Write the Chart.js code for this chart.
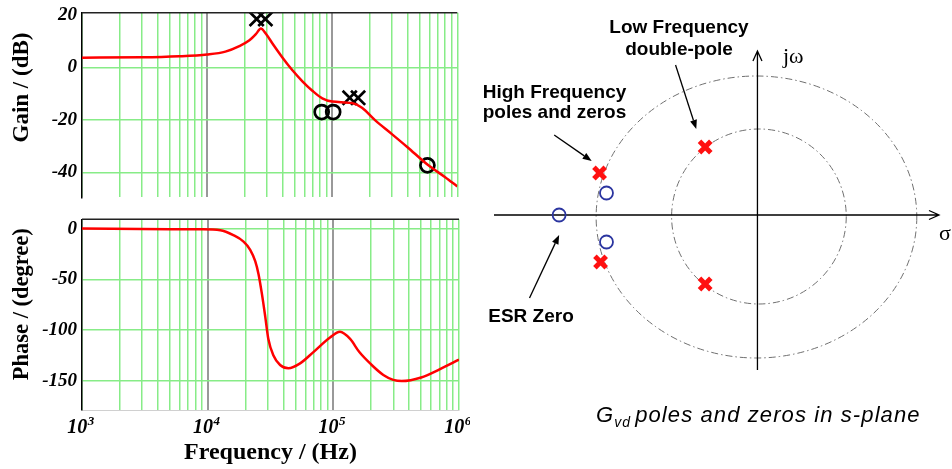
<!DOCTYPE html>
<html>
<head>
<meta charset="utf-8">
<script src="https://cdn.jsdelivr.net/npm/chart.js@4.4.1/dist/chart.umd.min.js"></script>
<style>
  body { margin: 0; background: #fff; }
  #wrap { position: relative; width: 952px; height: 469px; }
  canvas { position: absolute; }
</style>
</head>
<body>
<div id="wrap">
  <canvas id="gain" width="470" height="210" style="left:0;top:0"></canvas>
  <canvas id="phase" width="470" height="259" style="left:0;top:210px"></canvas>
  <canvas id="splane" width="482" height="469" style="left:470px;top:0"></canvas>
</div>
<script>
// ---- Bode data ----
const freqTicks = [1e3, 1e4, 1e5, 1e6];
const freqTickExp = ['3', '4', '5', '6'];
const gainTicks = [-40, -20, 0, 20];
const phaseTicks = [-150, -100, -50, 0];

const gainFreq = [1000, 3000, 6000, 10000, 14000, 18100, 21800, 24600, 26900, 29600, 33300, 40100, 48100,
  57800, 69400, 83300, 100000, 144000, 173000, 221000, 300000, 400000, 577000, 800000, 1000000];
const gainDb = [3.7, 3.8, 4.2, 4.9, 6.0, 8.1, 10.3, 12.7, 14.8, 12.7, 9.1, 3.7, -1.1,
  -5.3, -8.9, -11.8, -13.0, -13.6, -15.4, -20.2, -25.4, -30.4, -37.0, -41.8, -45.3];

const phaseFreq = [1000, 5000, 8700, 12600, 16000, 19300, 21800, 23900, 25400, 27000, 28700, 30400, 33300,
  37700, 43900, 54400, 69400, 94100, 113000, 136000, 161000, 200000, 250000, 300000, 350000, 500000, 700000, 1000000];
const phaseDeg = [0, -0.5, -0.7, -1.6, -6.4, -12.8, -20.8, -32, -44.8, -64, -86.3, -108.7, -124.6,
  -134.2, -137.4, -132.6, -121.5, -107.1, -101.6, -108.6, -121.5, -133.7, -144, -148.8, -150, -146.5, -138.5, -129];

const markPoleFreq = [24900, 29200, 138000, 161000];
const markPoleDb = [18.4, 18.4, -11.6, -11.6];
const markZeroFreq = [82400, 101800, 577000];
const markZeroDb = [-17.0, -17.0, -37.3];

// ---- s-plane data (normalised units) ----
const poleRe = [-1.60, -1.59, -0.53, -0.53];
const poleIm = [0.42, -0.47, 0.68, -0.69];
const zeroRe = [-1.53, -1.53, -2.01];
const zeroIm = [0.22, -0.27, 0];
const ringRe = [-0.01, 0.015];
const ringIm = [-0.02, -0.015];
const ringRx = [1.625, 0.885];
const ringRy = [1.41, 0.875];

const SERIF = "'Liberation Serif', 'Times New Roman', serif";
const SANS = "'Liberation Sans', Arial, sans-serif";
const GREEN = 'rgb(135,236,135)';
const GREY = '#999999';

const xy = (xs, ys) => xs.map((x, i) => ({ x, y: ys[i] }));

const gridFreqs = [];
for (let i = 0; i < freqTicks.length - 1; i++) {
  for (let m = 1; m < 10; m++) gridFreqs.push(freqTicks[i] * m);
}
gridFreqs.push(freqTicks[freqTicks.length - 1]);

const isDecade = v => v === 1e4 || v === 1e5;

function freqAxis(h, extra) {
  return Object.assign({
    type: 'logarithmic', min: 1e3, max: 1e6,
    afterBuildTicks: s => { s.ticks = gridFreqs.map(v => ({ value: v })); },
    afterFit: s => { s.height = h; },
    ticks: { display: false },
    grid: {
      drawTicks: false,
      color: c => (c.tick && isDecade(c.tick.value)) ? GREY : GREEN,
      lineWidth: c => (c.tick && isDecade(c.tick.value)) ? 2 : 1.5
    },
    border: { display: false }
  }, extra || {});
}

function valueAxis(min, max, ticks, lh) {
  return {
    min, max,
    afterBuildTicks: s => { s.ticks = ticks.map(v => ({ value: v })); },
    afterFit: s => { s.width = 82; },
    ticks: { padding: 5, color: '#000', font: { family: SERIF, size: 19, weight: 'bold', style: 'italic', lineHeight: lh } },
    grid: { drawTicks: false, color: c => (c.tick && c.tick.value > max - 1) ? 'rgba(0,0,0,0)' : GREEN, lineWidth: 1.5 },
    border: { display: true, color: '#000', width: 1.5 }
  };
}

function frame(title, cx, cy, size) {
  return {
    id: 'frame',
    afterDraw(chart) {
      const { ctx, chartArea: a } = chart;
      ctx.save();
      ctx.strokeStyle = '#222';
      ctx.lineWidth = 1.5;
      ctx.beginPath();
      ctx.moveTo(a.left, a.top);
      ctx.lineTo(a.right, a.top);
      ctx.stroke();
      ctx.translate(cx, cy);
      ctx.rotate(-Math.PI / 2);
      ctx.fillStyle = '#000';
      ctx.font = `bold ${size}px ${SERIF}`;
      ctx.textAlign = 'center';
      ctx.textBaseline = 'middle';
      ctx.fillText(title, 0, 0);
      ctx.restore();
    }
  };
}

const base = {
  responsive: false,
  animation: false,
  plugins: { legend: { display: false }, tooltip: { enabled: false } }
};

const markerSets = () => [
  { data: xy(markPoleFreq, markPoleDb), showLine: false, pointStyle: 'crossRot', pointRadius: 10,
    pointBorderWidth: 2.7, pointBorderColor: '#000', pointBackgroundColor: '#000' },
  { data: xy(markZeroFreq, markZeroDb), showLine: false, pointStyle: 'circle', pointRadius: 7,
    pointBorderWidth: 2.7, pointBorderColor: '#000', pointBackgroundColor: 'rgba(0,0,0,0)' }
];

new Chart(document.getElementById('gain'), {
  type: 'line',
  data: {
    datasets: [
      { data: xy(gainFreq, gainDb), borderColor: '#ff0000', borderWidth: 2.5, pointRadius: 0,
        cubicInterpolationMode: 'monotone' },
      ...markerSets()
    ]
  },
  options: Object.assign({}, base, {
    layout: { padding: { top: 7.3, right: 11, left: 0, bottom: 0 } },
    scales: { x: freqAxis(6.7), y: valueAxis(-49.45, 20.8, gainTicks, 0.6) }
  }),
  plugins: [frame('Gain / (dB)', 22.5, 87.5, 23)]
});

const tickLabels = {
  id: 'tickLabels',
  afterDraw(chart) {
    const { ctx, scales: { x } } = chart;
    const bigFont = `italic bold 20px ${SERIF}`;
    const supFont = `italic bold 13px ${SERIF}`;
    ctx.save();
    ctx.fillStyle = '#000';
    ctx.textBaseline = 'alphabetic';
    freqTicks.forEach((v, i) => {
      const px = x.getPixelForValue(v);
      ctx.font = bigFont;
      const w1 = ctx.measureText('10').width;
      ctx.font = supFont;
      const w2 = ctx.measureText(freqTickExp[i]).width;
      const left = px - 1.5 - (w1 + w2) / 2;
      ctx.font = bigFont;
      ctx.fillText('10', left, 223.3);
      ctx.font = supFont;
      ctx.fillText(freqTickExp[i], left + w1 + 0.5, 215);
    });
    ctx.restore();
  }
};

new Chart(document.getElementById('phase'), {
  type: 'line',
  data: {
    datasets: [
      { data: xy(phaseFreq, phaseDeg), borderColor: '#ff0000', borderWidth: 2.5, pointRadius: 0,
        cubicInterpolationMode: 'monotone' }
    ]
  },
  options: Object.assign({}, base, {
    layout: { padding: { top: 4.7, right: 11, left: 0, bottom: 0 } },
    scales: {
      x: freqAxis(59, {
        border: { display: true, color: '#d0d0d0', width: 1 },
        title: { display: true, text: 'Frequency / (Hz)', color: '#000',
          font: { family: SERIF, size: 24, weight: 'bold', lineHeight: 1.2 }, padding: { top: 0, bottom: 2 } }
      }),
      y: valueAxis(-178.5, 9.2, phaseTicks, 0.45)
    }
  }),
  plugins: [frame('Phase / (degree)', 22.5, 94.2, 22.5), tickLabels]
});

// ---- s-plane ----
const pointers = [
  { from: [-0.83, 1.50], to: [-0.62, 0.86] },
  { from: [-2.06, 0.80], to: [-1.68, 0.54] },
  { from: [-2.31, -0.83], to: [-2.01, -0.20] }
];
const notes = [
  { text: 'Low Frequency', x: 209, y: 33.3, align: 'center' },
  { text: 'double-pole', x: 209, y: 55, align: 'center' },
  { text: 'High Frequency', x: 12.7, y: 98.3, align: 'left' },
  { text: 'poles and zeros', x: 12.7, y: 118.3, align: 'left' },
  { text: 'ESR Zero', x: 61, y: 321.7, align: 'center' }
];

const splaneDeco = {
  id: 'splaneDeco',
  beforeDatasetsDraw(chart) {
    const { ctx, chartArea: a, scales: { x, y } } = chart;
    ctx.save();
    ctx.strokeStyle = '#707070';
    ctx.lineWidth = 1;
    ctx.setLineDash([7, 3, 1.5, 3]);
    ringRe.forEach((re, i) => {
      const cx = x.getPixelForValue(re), cy = y.getPixelForValue(ringIm[i]);
      const rx = x.getPixelForValue(re + ringRx[i]) - cx;
      const ry = cy - y.getPixelForValue(ringIm[i] + ringRy[i]);
      ctx.beginPath();
      ctx.ellipse(cx, cy, rx, ry, 0, 0, 2 * Math.PI);
      ctx.stroke();
    });
    ctx.setLineDash([]);
    const ox = x.getPixelForValue(0), oy = y.getPixelForValue(0);
    ctx.strokeStyle = '#000';
    ctx.lineWidth = 1.3;
    ctx.beginPath();
    ctx.moveTo(a.left, oy); ctx.lineTo(a.right, oy);
    ctx.moveTo(a.right - 10, oy - 4.5); ctx.lineTo(a.right, oy); ctx.lineTo(a.right - 10, oy + 4.5);
    ctx.moveTo(ox, a.bottom); ctx.lineTo(ox, a.top);
    ctx.moveTo(ox - 4.5, a.top + 10); ctx.lineTo(ox, a.top); ctx.lineTo(ox + 4.5, a.top + 10);
    ctx.stroke();
    ctx.restore();
  },
  afterDatasetsDraw(chart) {
    const { ctx, scales: { x, y } } = chart;
    ctx.save();
    ctx.strokeStyle = '#000';
    ctx.fillStyle = '#000';
    ctx.lineWidth = 1.3;
    pointers.forEach(p => {
      const x0 = x.getPixelForValue(p.from[0]), y0 = y.getPixelForValue(p.from[1]);
      const x1 = x.getPixelForValue(p.to[0]), y1 = y.getPixelForValue(p.to[1]);
      const ang = Math.atan2(y1 - y0, x1 - x0);
      const hl = 9, hw = 3.5;
      const bx = x1 - hl * Math.cos(ang), by = y1 - hl * Math.sin(ang);
      ctx.beginPath();
      ctx.moveTo(x0, y0); ctx.lineTo(bx, by);
      ctx.stroke();
      ctx.beginPath();
      ctx.moveTo(x1, y1);
      ctx.lineTo(bx + hw * Math.sin(ang), by - hw * Math.cos(ang));
      ctx.lineTo(bx - hw * Math.sin(ang), by + hw * Math.cos(ang));
      ctx.closePath();
      ctx.fill();
    });
    ctx.font = `bold 19px ${SANS}`;
    ctx.textBaseline = 'alphabetic';
    notes.forEach(n => {
      ctx.textAlign = n.align;
      ctx.fillText(n.text, n.x, n.y);
    });
    ctx.textAlign = 'left';
    ctx.font = `22px ${SERIF}`;
    ctx.fillText('j\u03c9', 313, 63.3);
    ctx.fillText('\u03c3', 469, 240);
    // caption
    if ('letterSpacing' in ctx) ctx.letterSpacing = '1.1px';
    ctx.font = `italic 22px ${SANS}`;
    let cx = 126;
    ctx.fillText('G', cx, 422);
    cx += ctx.measureText('G').width;
    ctx.font = `italic 14px ${SANS}`;
    ctx.fillText('vd', cx, 427);
    cx += ctx.measureText('vd').width + 4;
    ctx.font = `italic 22px ${SANS}`;
    ctx.fillText('poles and zeros in s-plane', cx, 422);
    ctx.restore();
  }
};

new Chart(document.getElementById('splane'), {
  type: 'scatter',
  data: {
    datasets: [
      { data: xy(poleRe, poleIm), pointStyle: 'crossRot', pointRadius: 8, pointBorderWidth: 5,
        pointBorderColor: '#ff1010', pointBackgroundColor: '#ff1010' },
      { data: xy(zeroRe, zeroIm), pointStyle: 'circle', pointRadius: 6.5, pointBorderWidth: 1.8,
        pointBorderColor: '#2b35a0', pointBackgroundColor: 'rgba(0,0,0,0)' }
    ]
  },
  options: Object.assign({}, base, {
    layout: { padding: { left: 24, right: 7, top: 51, bottom: 99 } },
    scales: {
      x: { display: false, min: -2.67, max: 1.84 },
      y: { display: false, min: -1.55, max: 1.64 }
    }
  }),
  plugins: [splaneDeco]
});
</script>
</body>
</html>
